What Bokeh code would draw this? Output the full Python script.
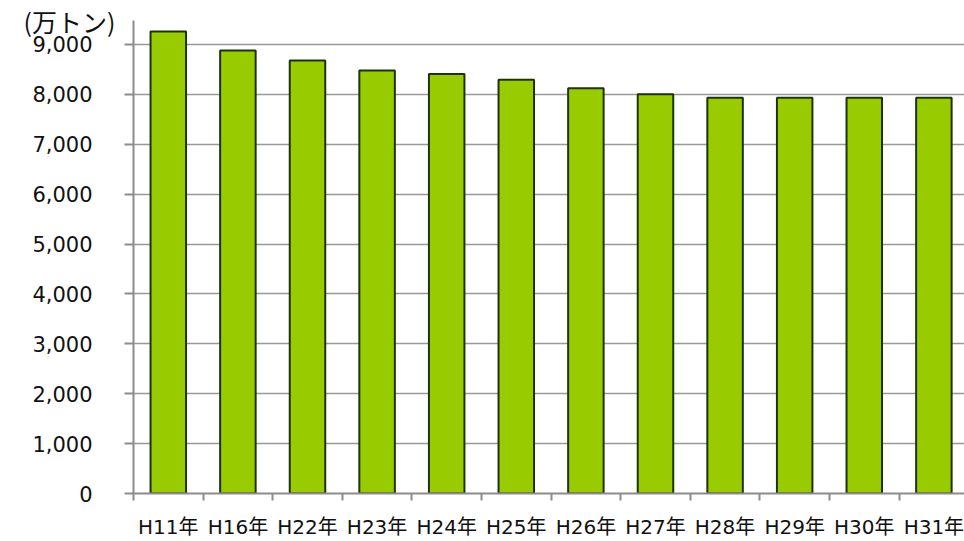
from bokeh.plotting import figure
from bokeh.models import (ColumnDataSource, Range1d, FixedTicker, CustomJSTickFormatter,
                          NumeralTickFormatter, Title)
from bokeh.embed import file_html
from bokeh.resources import INLINE

categories = ["H11年", "H16年", "H22年", "H23年", "H24年", "H25年",
              "H26年", "H27年", "H28年", "H29年", "H30年", "H31年"]
values = [9260, 8880, 8680, 8480, 8410, 8290, 8120, 8000, 7930, 7930, 7930, 7930]
y_ticks = [0, 1000, 2000, 3000, 4000, 5000, 6000, 7000, 8000, 9000]
unit_label = "(万トン)"

n = len(categories)
xs = [i + 0.5 for i in range(n)]
src = ColumnDataSource(dict(x=xs, top=values, cat=categories))

FONT = "DejaVu Sans, Noto Sans CJK JP"

p = figure(width=964, height=541, output_backend="svg", toolbar_location=None,
           x_range=Range1d(0, 11.94), y_range=Range1d(0, 9520),
           min_border_left=133, min_border_top=18, min_border_bottom=47,
           min_border_right=0)
p.outline_line_color = None
p.background_fill_color = "white"

p.vbar(x="x", top="top", width=0.51, bottom=0, source=src,
       fill_color="#99cc00", line_color="#1c330a", line_width=2)

# x axis
xa = p.xaxis[0]
xa.ticker = FixedTicker(ticks=xs, minor_ticks=list(range(n + 1)))
xa.formatter = CustomJSTickFormatter(args=dict(labels=categories),
                                     code="const i = Math.floor(tick); return labels[i] || '';")
xa.major_tick_out = 0
xa.major_tick_in = 0
xa.minor_tick_out = 7
xa.minor_tick_in = 0
xa.minor_tick_line_color = "#8c8c8c"
xa.minor_tick_line_width = 2
xa.axis_line_color = "#8c8c8c"
xa.axis_line_width = 2
xa.major_label_text_font = FONT
xa.major_label_text_font_size = "20px"
xa.major_label_text_color = "#111111"
xa.major_label_standoff = 14

# y axis
ya = p.yaxis[0]
ya.ticker = FixedTicker(ticks=y_ticks)
ya.formatter = NumeralTickFormatter(format="0,0")
ya.bounds = (0, 9480)
ya.major_tick_out = 9
ya.major_tick_in = 0
ya.minor_tick_out = 0
ya.minor_tick_in = 0
ya.major_tick_line_color = "#8c8c8c"
ya.major_tick_line_width = 2
ya.axis_line_color = "#8c8c8c"
ya.axis_line_width = 2
ya.major_label_text_font = FONT
ya.major_label_text_font_size = "21px"
ya.major_label_text_color = "#111111"
ya.major_label_standoff = 32

p.xgrid.visible = False
p.ygrid.ticker = FixedTicker(ticks=y_ticks[1:])
p.ygrid.grid_line_color = "#999999"
p.ygrid.grid_line_width = 1.5

title = Title(text=unit_label, align="left", offset=-110, standoff=-40,
              vertical_align="bottom", text_baseline="top",
              text_font="Noto Sans CJK JP", text_font_size="25px",
              text_font_style="normal", text_color="#111111")
p.add_layout(title, "above")

open("out.html", "w").write(file_html(p, INLINE))
